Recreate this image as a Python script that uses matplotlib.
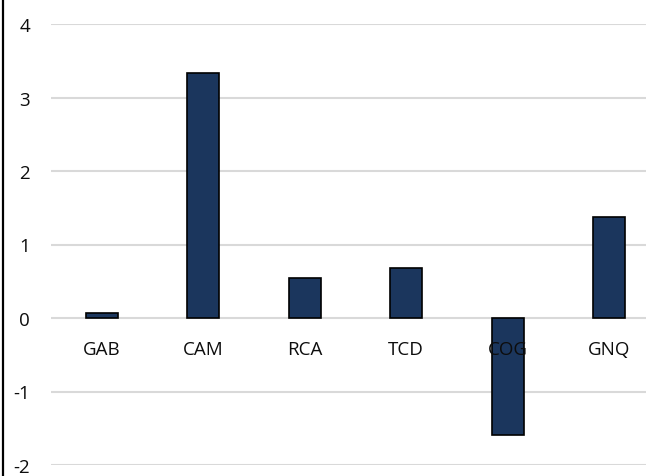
import matplotlib
matplotlib.use("Agg")
import matplotlib.pyplot as plt
from matplotlib.lines import Line2D

BAR = "#1B365D"
GRID = "#D9D9D9"

countries = ["GAB", "CAM", "RCA", "TCD", "COG", "GNQ"]
values = [0.07, 3.33, 0.54, 0.68, -1.59, 1.38]
y_ticks = [-2, -1, 0, 1, 2, 3, 4]

plt.rcParams["font.family"] = ["Open Sans", "DejaVu Sans"]

fig = plt.figure(figsize=(6.46, 4.77), dpi=100)
ax = fig.add_axes([51 / 646, 11 / 477, 609 / 646, 441 / 477])

ax.bar(range(len(countries)), values, width=0.32, color=BAR,
       edgecolor="black", linewidth=1.2, zorder=2)

ax.set_xlim(-0.5, len(countries) - 0.5)
ax.set_ylim(-2, 4)
ax.set_yticks(y_ticks)
ax.set_yticklabels([str(t) for t in y_ticks])
ax.yaxis.grid(True, color=GRID, linewidth=1.5)
ax.set_axisbelow(True)

ax.set_xticks(range(len(countries)))
ax.set_xticklabels(countries)
ax.spines["bottom"].set_position(("data", 0))
for s in ["top", "right", "left", "bottom"]:
    ax.spines[s].set_visible(False)
ax.tick_params(axis="x", length=0, pad=16, labelsize=13.5, labelcolor="#0D0D0D")
ax.tick_params(axis="y", length=0, pad=15, labelsize=13.5, labelcolor="#0D0D0D")
# category labels sit over the bars (COG crosses its bar)
ax.xaxis.set_zorder(5)

# outer frame edge on the left
fig.add_artist(Line2D([3 / 646, 3 / 646], [0, 1], color="black",
                      linewidth=1.6, transform=fig.transFigure))

fig.savefig("out.png", dpi=100)
